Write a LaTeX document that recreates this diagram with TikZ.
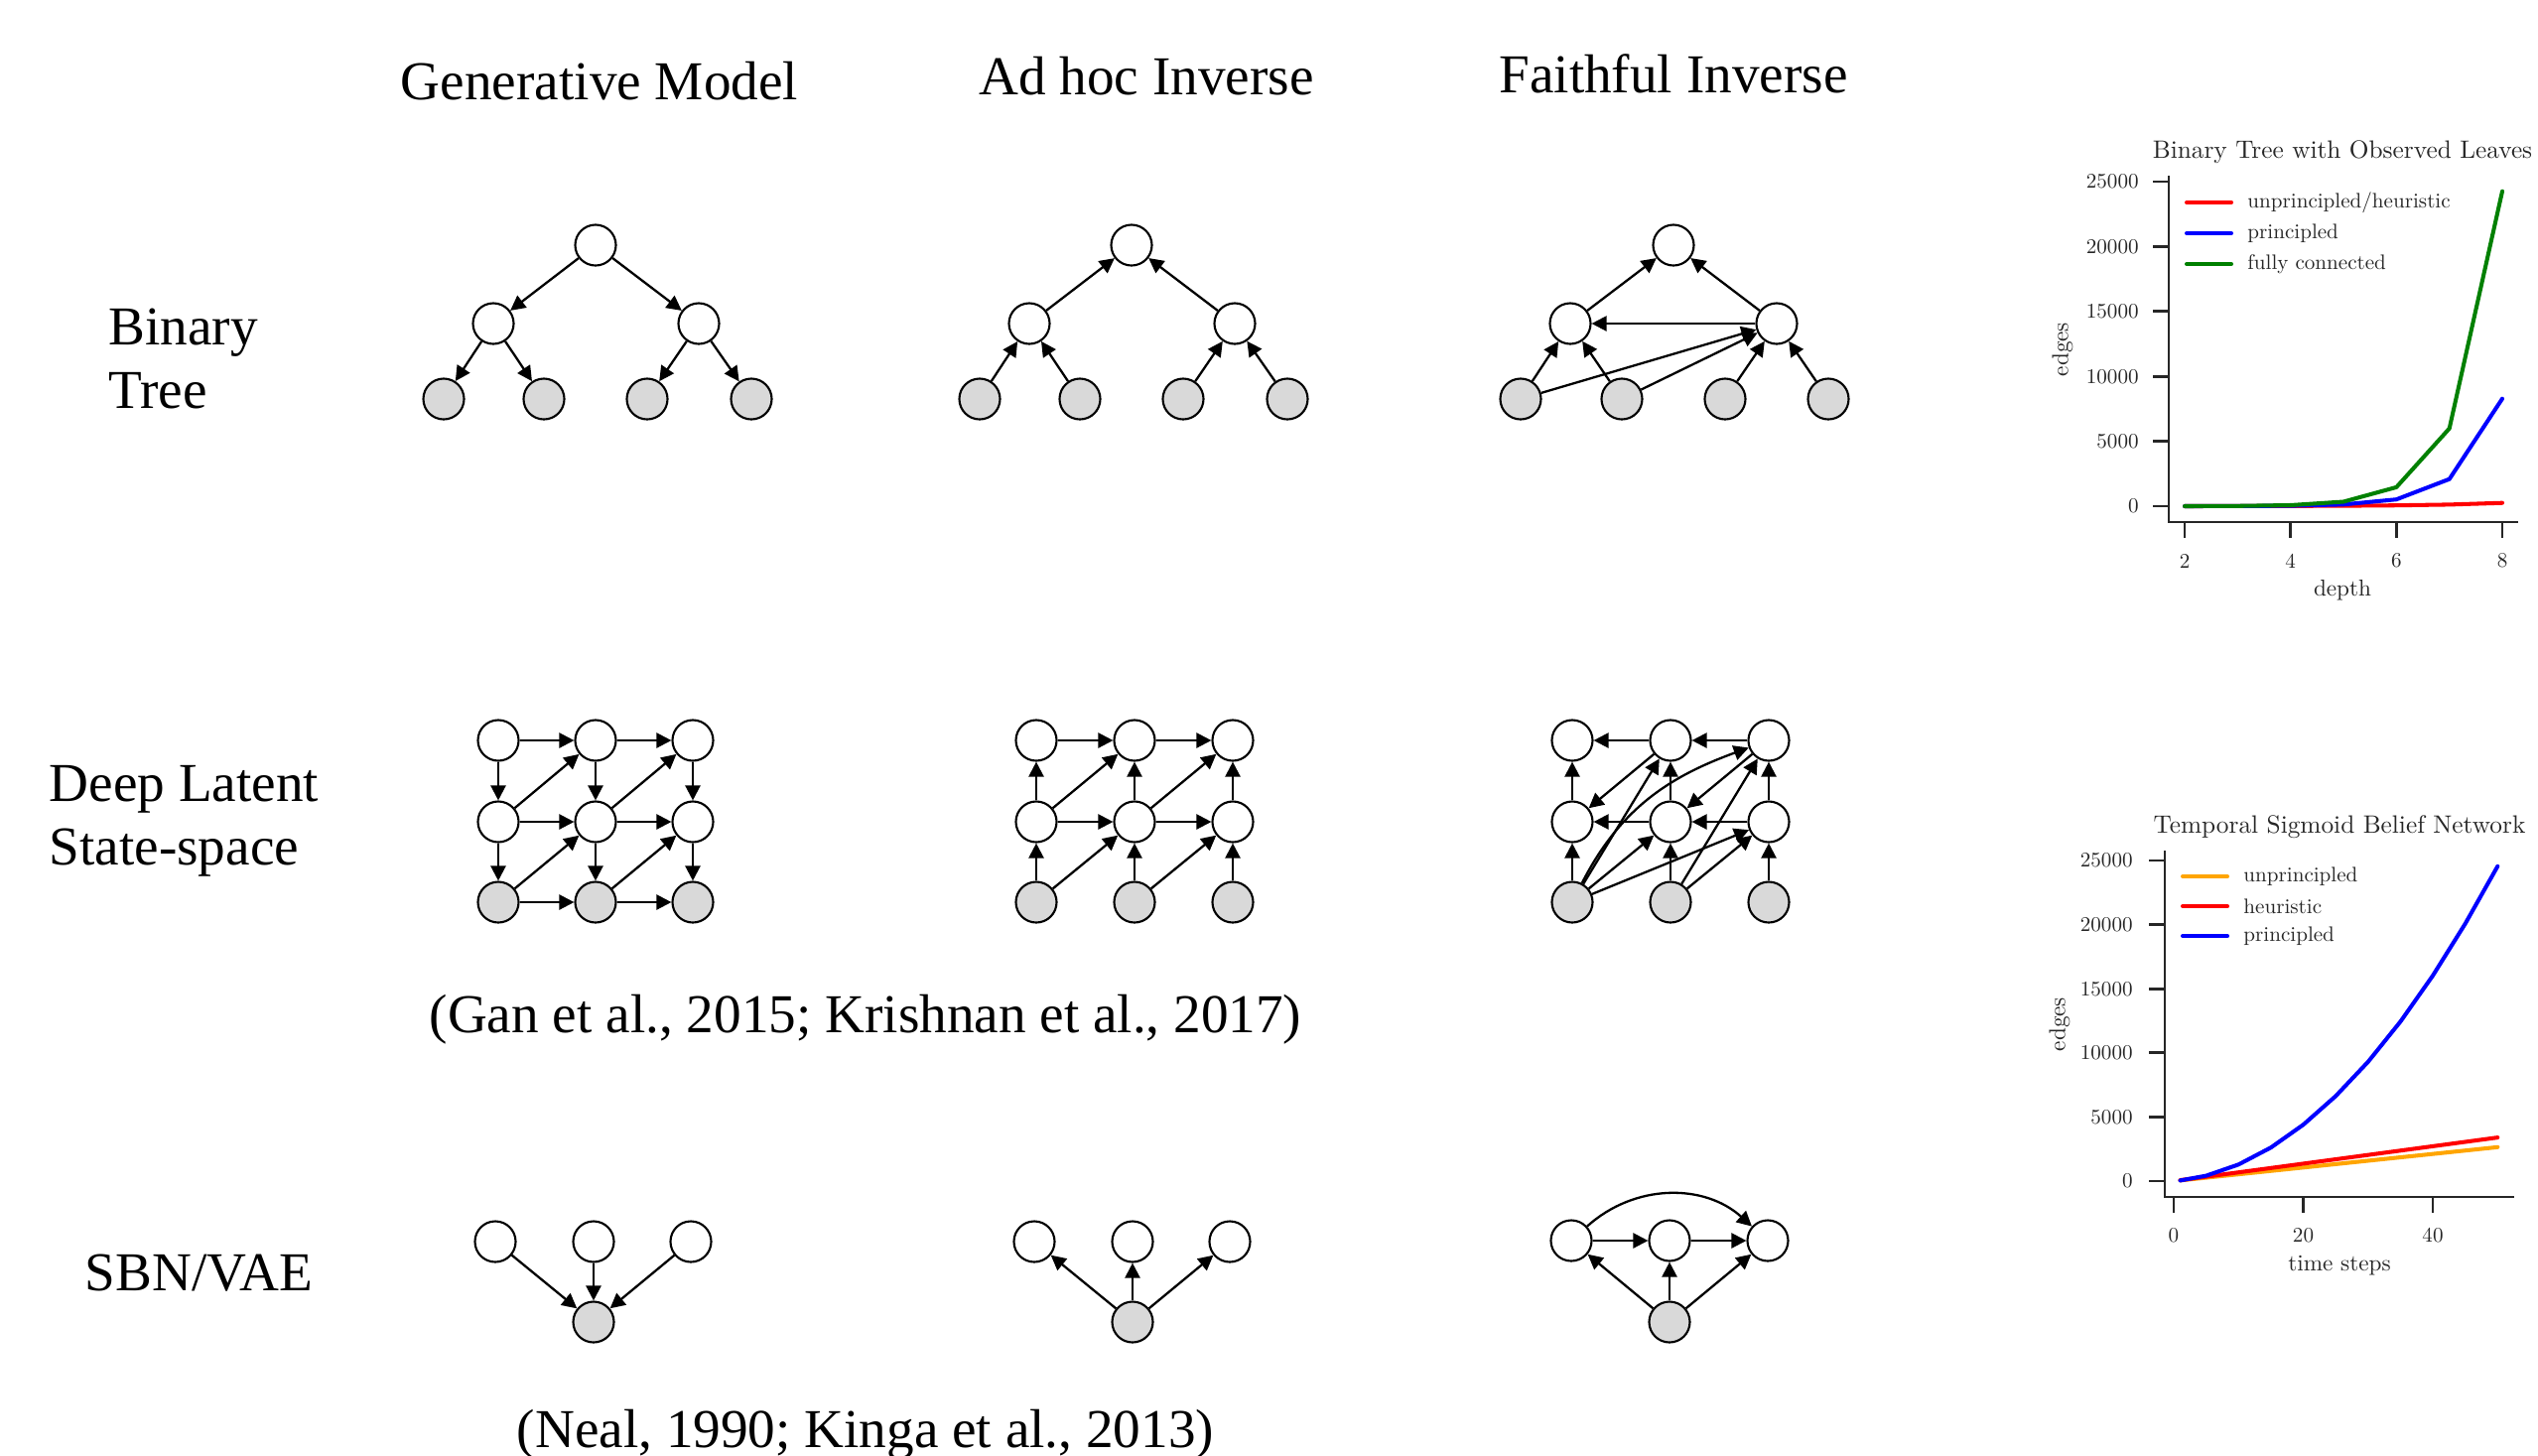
\documentclass[tikz,border=0pt]{standalone}
\usepackage{fontspec}
\newfontfamily\headfont{Liberation Serif}
\usetikzlibrary{arrows.meta}
\definecolor{obsgray}{RGB}{217,217,217}
\definecolor{axisgray}{RGB}{38,38,38}
\definecolor{lgreen}{RGB}{0,128,0}
\definecolor{lorange}{RGB}{255,165,0}
\definecolor{lred}{RGB}{255,0,0}
\definecolor{lblue}{RGB}{0,0,255}
\begin{document}
\begin{tikzpicture}[x=0.01cm,y=-0.01cm,
  lat/.style={circle,draw=black,line width=0.6pt,fill=white,minimum size=0.41cm,inner sep=0pt},
  obs/.style={lat,fill=obsgray},
  arr/.style={line width=0.65pt,-{Triangle[length=0.15cm,width=0.15cm]}},
  head/.style={font=\headfont\fontsize{15.7}{18}\selectfont,inner sep=0pt},
  plottext/.style={font=\fontsize{10}{12}\selectfont,text=axisgray,inner sep=0pt,transform shape},
  plottitle/.style={plottext,scale=0.72},
  plotlbl/.style={plottext,scale=0.6},
  plotaxlbl/.style={plottext,scale=0.66},
  axisline/.style={draw=axisgray,line width=0.8pt},
  series/.style={line width=1.15pt,line join=round,line cap=round}]

\useasboundingbox (0,0) rectangle (2557,1466);

% ---------------- column and row headings ----------------
\node[head,anchor=base] (hgen) at (604,100) {Generative Model};
\node[head,anchor=base] (hadhoc) at (1155,95) {Ad hoc Inverse};
\node[head,anchor=base] (hfaith) at (1686,93) {Faithful Inverse};

\node[head,anchor=base west] (rbt1) at (109,347) {Binary};
\node[head,anchor=base west] (rbt2) at (109,411) {Tree};
\node[head,anchor=base west] (rdl1) at (49,807) {Deep Latent};
\node[head,anchor=base west] (rdl2) at (49,871) {State-space};
\node[head,anchor=base west] (rsbn) at (85,1300) {SBN/VAE};

\node[head,anchor=base] (cite1) at (872,1040) {(Gan et al., 2015; Krishnan et al., 2017)};
\node[head,anchor=base] (cite2) at (872,1458) {(Neal, 1990; Kinga et al., 2013)};

% ---------------- binary tree: generative model ----------------
\node[lat] (gr) at (600,247) {};
\node[lat] (ga) at (497,326) {};
\node[lat] (gb) at (704,326) {};
\node[obs] (gl1) at (447,402) {};
\node[obs] (gl2) at (548,402) {};
\node[obs] (gl3) at (652,402) {};
\node[obs] (gl4) at (757,402) {};
\draw[arr] (gr) -- (ga);
\draw[arr] (gr) -- (gb);
\draw[arr] (ga) -- (gl1);
\draw[arr] (ga) -- (gl2);
\draw[arr] (gb) -- (gl3);
\draw[arr] (gb) -- (gl4);

% ---------------- binary tree: ad hoc inverse ----------------
\node[lat] (ar) at (1140,247) {};
\node[lat] (aa) at (1037,326) {};
\node[lat] (ab) at (1244,326) {};
\node[obs] (al1) at (987,402) {};
\node[obs] (al2) at (1088,402) {};
\node[obs] (al3) at (1192,402) {};
\node[obs] (al4) at (1297,402) {};
\draw[arr] (aa) -- (ar);
\draw[arr] (ab) -- (ar);
\draw[arr] (al1) -- (aa);
\draw[arr] (al2) -- (aa);
\draw[arr] (al3) -- (ab);
\draw[arr] (al4) -- (ab);

% ---------------- binary tree: faithful inverse ----------------
\node[lat] (fr) at (1686,247) {};
\node[lat] (fa) at (1582,326) {};
\node[lat] (fb) at (1790,326) {};
\node[obs] (fl1) at (1532,402) {};
\node[obs] (fl2) at (1634,402) {};
\node[obs] (fl3) at (1738,402) {};
\node[obs] (fl4) at (1842,402) {};
\draw[arr] (fa) -- (fr);
\draw[arr] (fb) -- (fr);
\draw[arr] (fb) -- (fa);
\draw[arr] (fl1) -- (fa);
\draw[arr] (fl2) -- (fa);
\draw[arr] (fl1) -- (fb);
\draw[arr] (fl2) -- (fb);
\draw[arr] (fl3) -- (fb);
\draw[arr] (fl4) -- (fb);

% ---------------- deep latent state-space: generative model ----------------
\foreach \c/\x in {1/502,2/600,3/698}{
  \node[lat] (gt\c) at (\x,746) {};
  \node[lat] (gm\c) at (\x,828) {};
  \node[obs] (gx\c) at (\x,909) {};
}
\draw[arr] (gt1) -- (gt2);
\draw[arr] (gt2) -- (gt3);
\draw[arr] (gm1) -- (gm2);
\draw[arr] (gm2) -- (gm3);
\draw[arr] (gx1) -- (gx2);
\draw[arr] (gx2) -- (gx3);
\foreach \c in {1,2,3}{
  \draw[arr] (gt\c) -- (gm\c);
  \draw[arr] (gm\c) -- (gx\c);
}
\draw[arr] (gm1) -- (gt2);
\draw[arr] (gm2) -- (gt3);
\draw[arr] (gx1) -- (gm2);
\draw[arr] (gx2) -- (gm3);

% ---------------- deep latent state-space: ad hoc inverse ----------------
\foreach \c/\x in {1/1044,2/1143,3/1242}{
  \node[lat] (at\c) at (\x,746) {};
  \node[lat] (am\c) at (\x,828) {};
  \node[obs] (ax\c) at (\x,909) {};
}
\draw[arr] (at1) -- (at2);
\draw[arr] (at2) -- (at3);
\draw[arr] (am1) -- (am2);
\draw[arr] (am2) -- (am3);
\foreach \c in {1,2,3}{
  \draw[arr] (am\c) -- (at\c);
  \draw[arr] (ax\c) -- (am\c);
}
\draw[arr] (am1) -- (at2);
\draw[arr] (am2) -- (at3);
\draw[arr] (ax1) -- (am2);
\draw[arr] (ax2) -- (am3);

% ---------------- deep latent state-space: faithful inverse ----------------
\foreach \c/\x in {1/1584,2/1683,3/1782}{
  \node[lat] (ft\c) at (\x,746) {};
  \node[lat] (fm\c) at (\x,828) {};
  \node[obs] (fx\c) at (\x,909) {};
}
\draw[arr] (ft2) -- (ft1);
\draw[arr] (ft3) -- (ft2);
\draw[arr] (fm2) -- (fm1);
\draw[arr] (fm3) -- (fm2);
\foreach \c in {1,2,3}{
  \draw[arr] (fm\c) -- (ft\c);
  \draw[arr] (fx\c) -- (fm\c);
}
\draw[arr] (ft2) -- (fm1);
\draw[arr] (ft3) -- (fm2);
\draw[arr] (fx1) -- (ft2);
\draw[arr] (fx1) to[out=63,in=200] (ft3);
\draw[arr] (fx1) -- (fm2);
\draw[arr] (fx1) -- (fm3);
\draw[arr] (fx2) -- (ft3);
\draw[arr] (fx2) -- (fm3);

% ---------------- SBN/VAE: generative model ----------------
\node[lat] (gs1) at (499,1251) {};
\node[lat] (gs2) at (598,1251) {};
\node[lat] (gs3) at (696,1251) {};
\node[obs] (gsx) at (598,1332) {};
\draw[arr] (gs1) -- (gsx);
\draw[arr] (gs2) -- (gsx);
\draw[arr] (gs3) -- (gsx);

% ---------------- SBN/VAE: ad hoc inverse ----------------
\node[lat] (as1) at (1042,1251) {};
\node[lat] (as2) at (1141,1251) {};
\node[lat] (as3) at (1239,1251) {};
\node[obs] (asx) at (1141,1332) {};
\draw[arr] (asx) -- (as1);
\draw[arr] (asx) -- (as2);
\draw[arr] (asx) -- (as3);

% ---------------- SBN/VAE: faithful inverse ----------------
\node[lat] (fs1) at (1583,1250) {};
\node[lat] (fs2) at (1682,1250) {};
\node[lat] (fs3) at (1781,1250) {};
\node[obs] (fsx) at (1682,1332) {};
\draw[arr] (fs1) -- (fs2);
\draw[arr] (fs2) -- (fs3);
\draw[arr] (fs1) to[out=42,in=138] (fs3);
\draw[arr] (fsx) -- (fs1);
\draw[arr] (fsx) -- (fs2);
\draw[arr] (fsx) -- (fs3);

% ---------------- plot: binary tree with observed leaves ----------------
\node[plottitle] (p1title) at (2360,153) {Binary Tree with Observed Leaves};
\draw[axisline] (2185,177) -- (2185,526) -- (2537,526);
\foreach \v/\y in {0/510,5000/444.6,10000/379.2,15000/313.8,20000/248.4,25000/183}{
  \draw[axisline] (2169,\y) -- (2185,\y);
  \node[plotlbl,anchor=east] at (2155,\y) {\v};
}
\foreach \d/\x in {2/2201,4/2307.7,6/2414.3,8/2521}{
  \draw[axisline] (\x,526) -- (\x,542);
  \node[plotlbl] at (\x,565) {\d};
}
\node[plotaxlbl] (p1xlab) at (2360,595) {depth};
\node[plotaxlbl,rotate=90] (p1ylab) at (2078,352) {edges};
\draw[series,lred] plot coordinates {(2201,510) (2254.3,509.9) (2307.7,509.8) (2361,509.6) (2414.3,509.2) (2467.7,508.4) (2521,506.7)};
\draw[series,lblue] plot coordinates {(2201,510) (2254.3,509.9) (2307.7,509.6) (2361,508.3) (2414.3,503.2) (2467.7,482.7) (2521,401.7)};
\draw[series,lgreen] plot coordinates {(2201,510) (2254.3,509.8) (2307.7,509) (2361,505.5) (2414.3,490.9) (2467.7,431.7) (2521,192.7)};
\draw[series,lred] (2203,204) -- (2248,204);
\draw[series,lblue] (2203,235) -- (2248,235);
\draw[series,lgreen] (2203,266) -- (2248,266);
\node[plotlbl,anchor=west] (p1leg1) at (2264,204) {unprincipled/heuristic};
\node[plotlbl,anchor=west] (p1leg2) at (2264,235) {principled};
\node[plotlbl,anchor=west] (p1leg3) at (2264,266) {fully connected};

% ---------------- plot: temporal sigmoid belief network ----------------
\node[plottitle] (p2title) at (2357,833) {Temporal Sigmoid Belief Network};
\draw[axisline] (2181,857) -- (2181,1206) -- (2533,1206);
\foreach \v/\y in {0/1190,5000/1125.4,10000/1060.8,15000/996.2,20000/931.6,25000/867}{
  \draw[axisline] (2165,\y) -- (2181,\y);
  \node[plotlbl,anchor=east] at (2149,\y) {\v};
}
\foreach \t/\x in {0/2190,20/2320.5,40/2451}{
  \draw[axisline] (\x,1206) -- (\x,1222);
  \node[plotlbl] at (\x,1245) {\t};
}
\node[plotaxlbl] (p2xlab) at (2357,1275) {time steps};
\node[plotaxlbl,rotate=90] (p2ylab) at (2075,1032) {edges};
\draw[series,lorange] (2196.5,1189.3) -- (2516.3,1155.8);
\draw[series,lred] (2196.5,1189.1) -- (2516.3,1146.1);
\draw[series,lblue] plot coordinates {(2196.5,1189.4) (2222.6,1184.6) (2255.3,1173.3) (2287.9,1156.2) (2320.5,1133.2) (2353.1,1104.4) (2385.8,1069.8) (2418.4,1029.3) (2451,983) (2483.6,930.8) (2516.3,872.8)};
\draw[series,lorange] (2199,883) -- (2244,883);
\draw[series,lred] (2199,913) -- (2244,913);
\draw[series,lblue] (2199,943) -- (2244,943);
\node[plotlbl,anchor=west] (p2leg1) at (2260,883) {unprincipled};
\node[plotlbl,anchor=west] (p2leg2) at (2260,913) {heuristic};
\node[plotlbl,anchor=west] (p2leg3) at (2260,943) {principled};
\end{tikzpicture}
\end{document}
